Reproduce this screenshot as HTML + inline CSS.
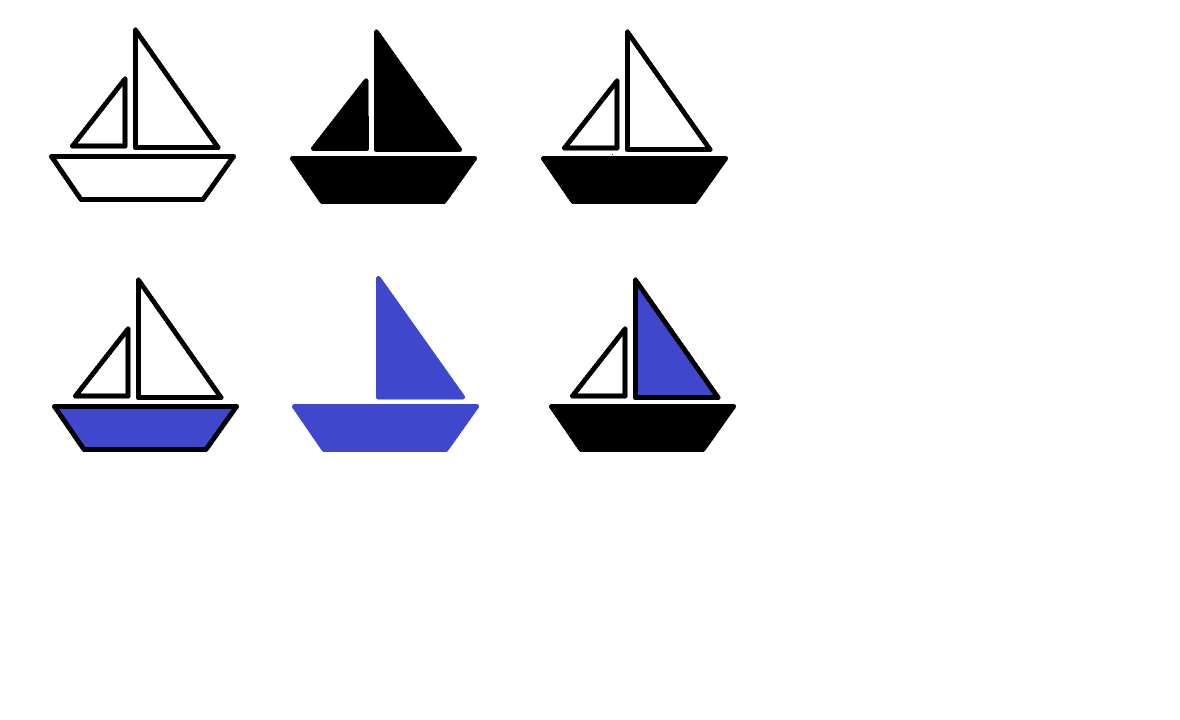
<!DOCTYPE html>
<html lang="en">
<head>
<meta charset="utf-8">
<title>Sailboats</title>
<style>
html,body{margin:0;padding:0;background:#fff;width:1180px;height:720px;overflow:hidden}
svg{display:block}
polygon{stroke-width:5;stroke-linejoin:round;shape-rendering:crispEdges}
</style>
</head>
<body>
<svg width="1180" height="720" viewBox="0 0 1180 720" xmlns="http://www.w3.org/2000/svg">
  <rect width="1180" height="720" fill="#fff"/>

  <g>
    <polygon points="125,79 72.5,146 125,146" fill="#fff" stroke="#000"/>
    <polygon points="135.5,30 135.5,147.5 218,147.5" fill="#fff" stroke="#000"/>
    <polygon points="51.5,156.5 233.5,156.5 203,199.5 81,199.5" fill="#fff" stroke="#000"/>
  </g>

  <g transform="translate(241,2)">
    <polygon points="125,79 72.5,146.5 125.5,146.5" fill="#000" stroke="#000"/>
    <polygon points="135.5,30 135.5,147.5 218.5,147.5" fill="#000" stroke="#000"/>
    <polygon points="51.5,156.5 233.5,156.5 203,199.5 81,199.5" fill="#000" stroke="#000"/>
  </g>

  <g transform="translate(492,2)">
    <polygon points="125,79 72.5,146 125,146" fill="#fff" stroke="#000"/>
    <polygon points="135.5,30 135.5,147.5 218,147.5" fill="#fff" stroke="#000"/>
    <polygon points="51.5,156.5 233.5,156.5 203,199.5 81,199.5" fill="#000" stroke="#000"/>
  </g>
  <rect x="612" y="154" width="1" height="1" fill="#333"/>

  <g transform="translate(3,250)">
    <polygon points="125,79 72.5,146 125,146" fill="#fff" stroke="#000"/>
    <polygon points="135.5,30 135.5,147.5 218,147.5" fill="#fff" stroke="#000"/>
    <polygon points="51.5,156.5 233.5,156.5 203,199.5 81,199.5" fill="#3f48cc" stroke="#000"/>
  </g>

  <g transform="translate(243,250)">
    <polygon points="135.5,28.5 135.5,147 219.5,147" fill="#3f48cc" stroke="#3f48cc"/>
    <polygon points="51.5,156.5 233.5,156.5 203,199.5 81,199.5" fill="#3f48cc" stroke="#3f48cc"/>
  </g>

  <g transform="translate(500,250)">
    <polygon points="125,79 72.5,146 125,146" fill="#fff" stroke="#000"/>
    <polygon points="135.5,30 135.5,147.5 218,147.5" fill="#3f48cc" stroke="#000"/>
    <polygon points="51.5,156.5 233.5,156.5 203,199.5 81,199.5" fill="#000" stroke="#000"/>
  </g>
</svg>
</body>
</html>
